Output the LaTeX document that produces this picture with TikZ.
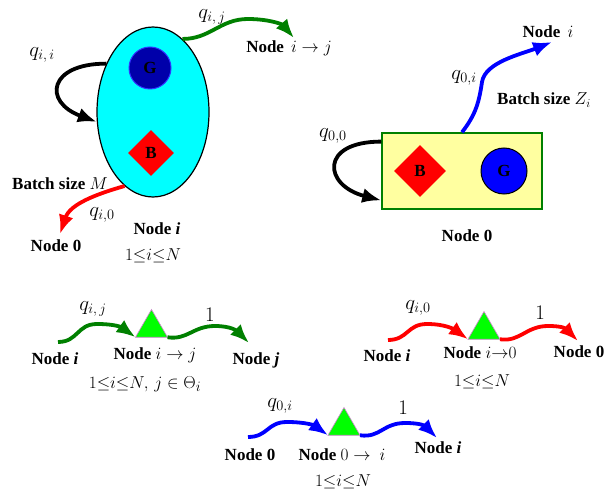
\documentclass[tikz,border=0pt]{standalone}
\usepackage{amsmath}
\usepackage{amssymb}
\usepackage{fontspec}
\setmainfont{Liberation Serif}
\usepackage{tikz}
\usepackage{xcolor}
\usetikzlibrary{arrows.meta,shapes.geometric}

\definecolor{nodecyan}{RGB}{0,255,255}
\definecolor{gdark}{RGB}{0,0,170}
\definecolor{gedge}{RGB}{50,50,255}
\definecolor{arrgreen}{RGB}{0,128,0}
\definecolor{boxyellow}{RGB}{255,255,160}
\definecolor{trigreen}{RGB}{0,255,0}
\definecolor{triedge}{RGB}{210,130,210}

\begin{document}
\begin{tikzpicture}[x=1pt,y=-1pt,
        flow/.style={line width=3.8pt,-{Latex[length=19pt,width=15pt]}},
        txt/.style={font=\fontsize{17}{19}\selectfont\bfseries,inner sep=1pt},
        mth/.style={font=\fontsize{19}{21}\selectfont,inner sep=1pt},
        rate/.style={font=\fontsize{21}{23}\selectfont,inner sep=1pt},
        gnode/.style={circle,draw,line width=1pt,inner sep=0pt,font=\fontsize{17}{19}\selectfont\bfseries},
        bnode/.style={diamond,fill=red,inner sep=0pt,font=\fontsize{17}{19}\selectfont\bfseries},
        tri/.style={regular polygon,regular polygon sides=3,minimum size=37pt,inner sep=0pt,outer sep=0pt,fill=trigreen,draw=triedge,line width=0.6pt}]
        \useasboundingbox (0,0) rectangle (604,502);
        % node i with its own loop
        \node[ellipse,fill=nodecyan,draw,line width=1.2pt,minimum width=112pt,minimum height=170pt,inner sep=0pt] (ell) at (153,112) {};
        \node[gnode,fill=gdark,draw=gedge,minimum size=42pt] (gi) at (150,68) {G};
        \node[bnode,minimum size=46pt] (bi) at (151,153) {B};
        \draw[flow,black] (ell.134) .. controls +(-58,0) and +(-54,-20) .. (ell.190);
        \coordinate (gpk) at (248,19);
        \coordinate (gend) at (294,38);
        \draw[flow,arrgreen] (ell.68) .. controls +(28,0) and +(-28,0) .. (gpk) .. controls +(20,0) and +(-12,-14) .. (gend);
        \coordinate (rend) at (60,234);
        \draw[flow,red] (ell.249) .. controls +(-28,8) and +(10,-30) .. (rend);
        \node[rate] (qii) at (42,55) {$q_{i,\,i}$};
        \node[rate] (qij) at (212,17) {$q_{i,\,j}$};
        \node[txt] (lij) at (289,48) {Node\, $i\rightarrow j$};
        \node[txt] (lbm) at (60,184) {Batch size $M$};
        \node[rate] (qi0) at (102,215) {$q_{i,0}$};
        \node[txt] (ln0a) at (56,246) {Node 0};
        \node[txt] (lni) at (157,229) {Node \textit{i}};
        \node[mth] (lrng) at (153,256) {$1{\le}i{\le}N$};
        % node 0
        \node[rectangle,fill=boxyellow,draw=arrgreen,line width=1.5pt,minimum width=160pt,minimum height=76pt,inner sep=0pt] (box) at (462,171) {};
        \node[bnode,minimum size=52pt] (b0) at (420,171) {B};
        \node[gnode,fill=blue,draw=black,minimum size=46pt] (g0) at (504,171) {G};
        \draw[flow,black] (box.160) .. controls +(-62,0) and +(-58,-15) .. (box.200);
        \coordinate (bpk) at (482,82);
        \coordinate (bend) at (552,42);
        \draw[flow,blue] (box.north) .. controls +(14,-18) and +(-3,20) .. (bpk) .. controls +(3,-20) and +(-30,12) .. (bend);
        \node[txt] (lnib) at (548,32) {Node\, $i$};
        \node[rate] (q0i) at (464,78) {$q_{0,i}$};
        \node[txt] (lbz) at (544,100) {Batch size $Z_i$};
        \node[rate] (q00) at (333,136) {$q_{0,0}$};
        \node[txt] (ln0b) at (467,236) {Node 0};
        % i -> j
        \node[tri] (tg) at (151.5,328) {};
        \coordinate (gs) at (58,342);
        \coordinate (gp1) at (97,324);
        \coordinate (gp2) at (215,326);
        \coordinate (ge) at (249,343);
        \draw[flow,arrgreen] (gs) .. controls +(20,0) and +(-20,0) .. (gp1) .. controls +(18,0) and +(-14,-10) .. (tg.corner 2);
        \draw[flow,arrgreen] (tg.corner 3) .. controls +(20,3) and +(-22,0) .. (gp2) .. controls +(16,0) and +(-12,-12) .. (ge);
        \node[rate] (qijb) at (93,309) {$q_{i,\,j}$};
        \node[rate] (oneg) at (210,315) {$1$};
        \node[txt] (lgi) at (55,359) {Node \textit{i}};
        \node[txt] (lgij) at (155,355) {Node $i\rightarrow j$};
        \node[txt] (lgj) at (256,360) {Node \textit{j}};
        \node[mth] (lgrng) at (145,384) {$1{\le}i{\le}N,\, j\in\Theta_i$};
        % i -> 0
        \node[tri] (tr) at (484,330) {};
        \coordinate (rs) at (388,340);
        \coordinate (rp1) at (427,324);
        \coordinate (rp2) at (548,326);
        \coordinate (re) at (578,341);
        \draw[flow,red] (rs) .. controls +(20,0) and +(-20,0) .. (rp1) .. controls +(18,0) and +(-14,-10) .. (tr.corner 2);
        \draw[flow,red] (tr.corner 3) .. controls +(20,3) and +(-22,0) .. (rp2) .. controls +(16,0) and +(-12,-12) .. (re);
        \node[rate] (qi0b) at (418,308) {$q_{i,0}$};
        \node[rate] (oner) at (540,313) {$1$};
        \node[txt] (lri) at (387,356) {Node \textit{i}};
        \node[txt] (lri0) at (480,353) {Node $i{\rightarrow}0$};
        \node[txt] (lr0) at (579,352) {Node 0};
        \node[mth] (lrrng) at (482,382) {$1{\le}i{\le}N$};
        % 0 -> i
        \node[tri] (tb) at (344,426) {};
        \coordinate (bs) at (248,437);
        \coordinate (bp1) at (287,422);
        \coordinate (bp2) at (405,423);
        \coordinate (be) at (437,438);
        \draw[flow,blue] (bs) .. controls +(20,0) and +(-20,0) .. (bp1) .. controls +(18,0) and +(-14,-10) .. (tb.corner 2);
        \draw[flow,blue] (tb.corner 3) .. controls +(20,3) and +(-22,0) .. (bp2) .. controls +(16,0) and +(-12,-12) .. (be);
        \node[rate] (q0ib) at (280,406) {$q_{0,i}$};
        \node[rate] (oneb) at (403,408) {$1$};
        \node[txt] (lb0) at (250,455) {Node 0};
        \node[txt] (lb0i) at (342,455) {Node $0\rightarrow\ i$};
        \node[txt] (lbi) at (438,448) {Node \textit{i}};
        \node[mth] (lbrng) at (343,482) {$1{\le}i{\le}N$};
\end{tikzpicture}
\end{document}
